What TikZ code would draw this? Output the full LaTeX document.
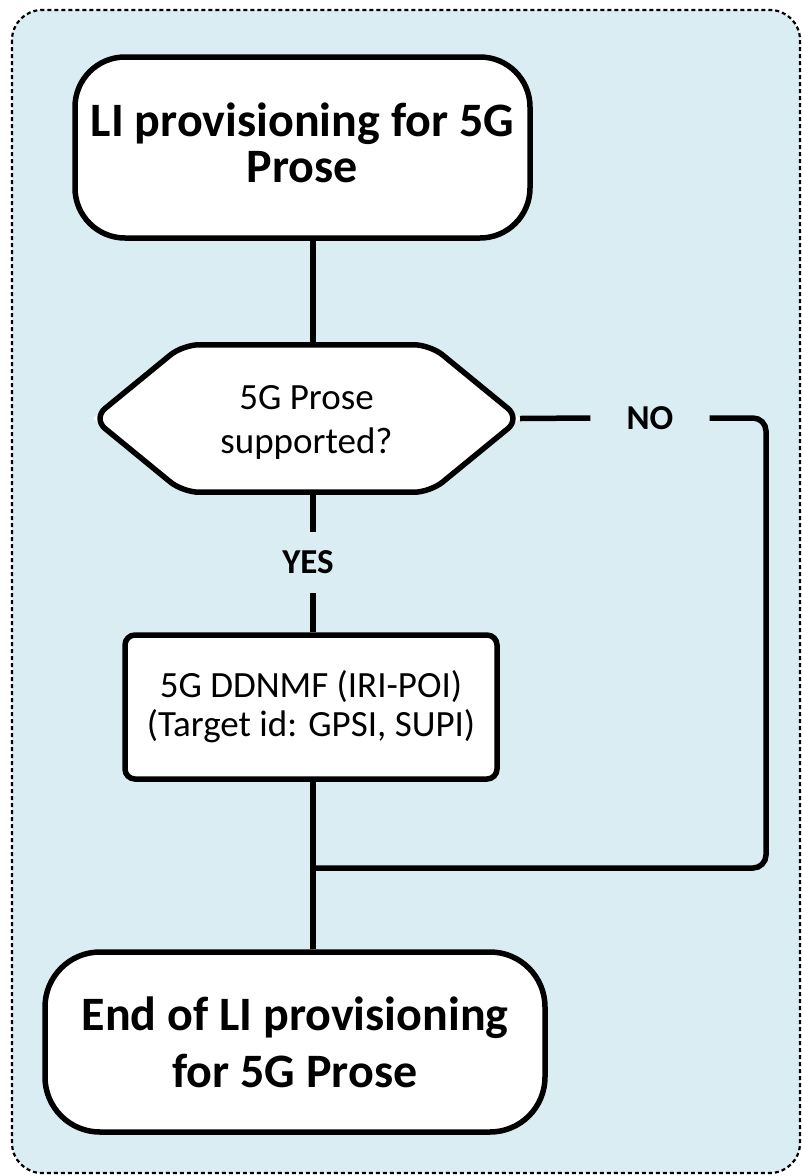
\documentclass[tikz,border=0pt]{standalone}
\usepackage{fontspec}
\setmainfont{Carlito}
\begin{document}
\begin{tikzpicture}[x=1pt,y=-1pt,
  bgfill/.style={fill={rgb,255:red,218;green,237;blue,243}},
  termbox/.style={draw,line width=5.5pt,fill=white,rounded corners=50pt,align=center,inner sep=0pt},
  procbox/.style={draw,line width=5.5pt,fill=white,rounded corners=10pt,align=center,inner sep=0pt},
  lbl/.style={inner sep=0pt,font=\fontsize{35}{40}\selectfont\bfseries},
  conn/.style={line width=5.5pt}]
\useasboundingbox (0,0) rectangle (802,1176);
\draw[bgfill,line width=2.2pt,dash pattern=on 4pt off 3pt,rounded corners=30pt] (12,10) rectangle (800,1173);

% nodes
\node[termbox,minimum width=455pt,minimum height=181pt] (start) at (302.5,147.5) {};
\node[inner sep=0pt,align=center,font=\fontsize{48}{46}\selectfont\bfseries] (starttext) at ([yshift=5pt]start.center)
  {LI provisioning for 5G\\Prose};
\node[inner sep=0pt,minimum width=427pt,minimum height=147pt] (hexframe) at (306.5,418.5) {};
\fill[white] (hexframe.west) -- ([xshift=90pt]hexframe.north west) -- ([xshift=-90pt]hexframe.north east)
  -- (hexframe.east) -- ([xshift=-90pt]hexframe.south east) -- ([xshift=90pt]hexframe.south west) -- cycle;
\draw[line width=5.5pt,rounded corners=16pt] (hexframe.west) -- ([xshift=90pt]hexframe.north west) -- ([xshift=-90pt]hexframe.north east)
  -- (hexframe.east) -- ([xshift=-90pt]hexframe.south east) -- ([xshift=90pt]hexframe.south west) -- cycle;
\node[inner sep=0pt,align=center,font=\fontsize{37}{44}\selectfont] (hex) at ([yshift=-4pt]hexframe.center)
  {5G Prose\\supported?};
\node[procbox,minimum width=372pt,minimum height=144pt,font=\fontsize{37}{39}\selectfont] (box) at (311,707)
  {5G DDNMF (IRI-POI)\\(Target id: GPSI, SUPI)};
\node[termbox,rounded corners=55pt,minimum width=500pt,minimum height=180pt,font=\fontsize{48}{57}\selectfont\bfseries] (end) at (295,1042)
  {End of LI provisioning\\for 5G Prose};
\node[lbl,minimum width=119pt,minimum height=30pt] (no) at (650,418) {NO};
\node[lbl,minimum width=60pt,minimum height=61pt] (yes) at (308,562.5) {YES};

% connectors
\coordinate (jn) at (313,868);
\coordinate (nc) at (766,868);
\draw[conn] (start.south -| jn) -- (hexframe.north -| jn);
\draw[conn] (hexframe.south -| jn) -- (yes.north -| jn);
\draw[conn] (yes.south -| jn) -- (box.north -| jn);
\draw[conn] (box.south -| jn) -- (end.north -| jn);
\draw[conn] (hexframe.east) -- (no.west);
\draw[conn,rounded corners=13pt] (no.east) -- (no.east -| nc) -- (nc) -- (jn);
\end{tikzpicture}
\end{document}
